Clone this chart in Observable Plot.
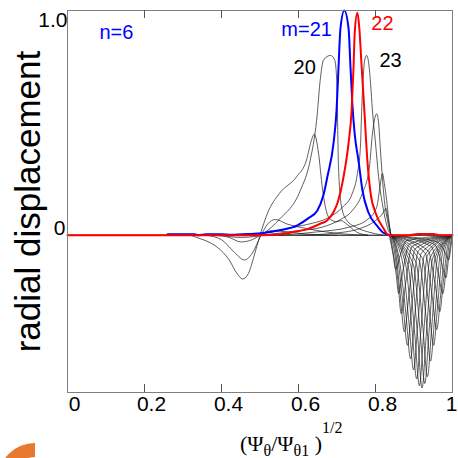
<!DOCTYPE html>
<html><head><meta charset="utf-8">
<script src="https://cdn.jsdelivr.net/npm/d3@7"></script>
<script src="https://cdn.jsdelivr.net/npm/@observablehq/plot@0.6"></script>
<style>html,body{margin:0;padding:0;background:#fff;} #chart{width:458px;height:458px;overflow:hidden}</style>
</head><body><div id="chart"></div>
<script>
// tick values
const xTicks = [0.2, 0.4, 0.6, 0.8];
const xLabels = [0, 0.2, 0.4, 0.6, 0.8];
const yTitle = "radial displacement";

// harmonics (x, radial displacement)
const m17 = [[0.38,0],[0.42,-0.01],[0.45,-0.03],[0.48,-0.02],[0.50,0],[0.53,0.02],[0.57,0.015],[0.62,0.005],[0.70,0]];
const m18 = [[0.36,0],[0.40,-0.02],[0.43,-0.07],[0.46,-0.11],[0.48,-0.08],[0.50,-0.01],[0.52,0.05],[0.54,0.07],[0.57,0.05],[0.62,0.03],[0.67,0.015],[0.72,0.005],[0.78,0]];
const m19 = [[0.32,0],[0.335,-0.01],[0.36,-0.025],[0.39,-0.055],[0.42,-0.11],[0.44,-0.17],[0.455,-0.195],[0.47,-0.17],[0.485,-0.09],[0.50,0],[0.52,0.1],[0.55,0.185],[0.595,0.26],[0.62,0.33],[0.635,0.43],[0.641,0.45],[0.652,0.365],[0.662,0.21],[0.67,0.125],[0.683,0.07],[0.70,0.06],[0.71,0.065],[0.725,0.05],[0.75,0.015],[0.78,0]];
const m20 = [[0.40,0],[0.45,-0.01],[0.49,-0.005],[0.51,0.01],[0.55,0.07],[0.605,0.2],[0.63,0.33],[0.647,0.51],[0.657,0.70],[0.665,0.78],[0.683,0.80],[0.694,0.78],[0.699,0.70],[0.701,0.55],[0.704,0.30],[0.712,0.125],[0.725,0.067],[0.75,0.035],[0.78,0.015],[0.82,0]];
const m21 = [[0.26,0.004],[0.33,0.004],[0.34,0],[0.36,0.004],[0.40,0.004],[0.423,0.002],[0.47,0.005],[0.509,0.01],[0.55,0.022],[0.597,0.044],[0.625,0.075],[0.649,0.11],[0.665,0.18],[0.675,0.26],[0.691,0.41],[0.699,0.56],[0.704,0.75],[0.709,0.92],[0.719,1.0],[0.73,0.92],[0.735,0.75],[0.74,0.58],[0.746,0.45],[0.756,0.33],[0.766,0.2],[0.782,0.10],[0.805,0.04],[0.821,0.01],[0.84,0]];
const m22 = [[0,0],[0.50,0],[0.553,0.004],[0.59,0.015],[0.623,0.027],[0.655,0.05],[0.675,0.067],[0.69,0.1],[0.701,0.142],[0.717,0.26],[0.73,0.41],[0.738,0.556],[0.743,0.75],[0.746,0.9],[0.753,0.99],[0.758,0.92],[0.764,0.75],[0.771,0.556],[0.779,0.33],[0.787,0.19],[0.80,0.10],[0.821,0.03],[0.834,0],[0.88,0],[0.91,0.005],[0.95,0.005],[0.97,0],[1,0]];
const m23 = [[0.45,0],[0.55,0.02],[0.60,0.04],[0.636,0.053],[0.68,0.08],[0.714,0.124],[0.74,0.187],[0.753,0.275],[0.761,0.4],[0.764,0.55],[0.768,0.7],[0.772,0.78],[0.777,0.80],[0.782,0.77],[0.787,0.68],[0.792,0.556],[0.80,0.41],[0.808,0.26],[0.821,0.11],[0.834,0.02],[0.845,0]];
const m24 = [[0.5,0],[0.6,0.02],[0.662,0.036],[0.706,0.067],[0.74,0.11],[0.766,0.187],[0.784,0.30],[0.792,0.45],[0.798,0.52],[0.803,0.54],[0.808,0.5],[0.812,0.4],[0.816,0.30],[0.823,0.155],[0.831,0.067],[0.84,0]];
const m25 = [[0.55,0],[0.65,0.015],[0.732,0.036],[0.777,0.067],[0.803,0.124],[0.812,0.22],[0.818,0.275],[0.823,0.23],[0.829,0.155],[0.834,0.075],[0.84,0]];
const m26 = [[0.6,0],[0.7,0.01],[0.76,0.03],[0.80,0.065],[0.82,0.1],[0.827,0.12],[0.833,0.07],[0.84,0]];
const m27 = [[0.836,0],[0.846,-0.09],[0.852,-0.15],[0.862,-0.1],[0.88,-0.025],[0.998,0]];
const m28 = [[0.838,0],[0.848,-0.1],[0.854,-0.18],[0.860,-0.26],[0.870,-0.17],[0.888,-0.04],[0.998,0]];
const m29 = [[0.838,0],[0.85,-0.08],[0.858,-0.2],[0.867,-0.35],[0.877,-0.23],[0.895,-0.05],[0.998,0]];
const m30 = [[0.84,0],[0.852,-0.07],[0.864,-0.26],[0.875,-0.43],[0.886,-0.28],[0.903,-0.06],[0.998,0]];
const m31 = [[0.84,0],[0.856,-0.08],[0.871,-0.3],[0.883,-0.49],[0.894,-0.32],[0.911,-0.07],[0.998,0]];
const m32 = [[0.84,0],[0.861,-0.1],[0.879,-0.35],[0.891,-0.55],[0.902,-0.36],[0.919,-0.08],[0.998,0]];
const m33 = [[0.84,0],[0.869,-0.11],[0.887,-0.39],[0.899,-0.60],[0.910,-0.39],[0.927,-0.09],[0.998,0]];
const m34 = [[0.84,0],[0.877,-0.12],[0.895,-0.42],[0.907,-0.64],[0.918,-0.42],[0.935,-0.09],[0.998,0]];
const m35 = [[0.84,0],[0.884,-0.13],[0.902,-0.44],[0.914,-0.67],[0.925,-0.44],[0.942,-0.1],[0.998,0]];
const m36 = [[0.84,0],[0.891,-0.13],[0.909,-0.44],[0.921,-0.68],[0.932,-0.44],[0.949,-0.1],[0.998,0]];
const m37 = [[0.84,0],[0.898,-0.13],[0.916,-0.43],[0.928,-0.66],[0.939,-0.43],[0.955,-0.1],[0.998,0]];
const m38 = [[0.84,0],[0.905,-0.12],[0.923,-0.41],[0.935,-0.63],[0.946,-0.41],[0.962,-0.09],[0.998,0]];
const m39 = [[0.84,0],[0.913,-0.11],[0.931,-0.36],[0.943,-0.56],[0.954,-0.36],[0.969,-0.08],[0.998,0]];
const m40 = [[0.84,0],[0.921,-0.1],[0.939,-0.32],[0.951,-0.49],[0.961,-0.32],[0.975,-0.07],[0.998,0]];
const m41 = [[0.84,0],[0.929,-0.08],[0.947,-0.27],[0.959,-0.42],[0.969,-0.27],[0.981,-0.06],[0.998,0]];
const m42 = [[0.84,0],[0.937,-0.07],[0.955,-0.22],[0.967,-0.34],[0.976,-0.21],[0.987,-0.05],[0.998,0]];
const m43 = [[0.84,0],[0.945,-0.05],[0.963,-0.17],[0.975,-0.26],[0.983,-0.16],[0.992,-0.03],[0.998,0]];
const m44 = [[0.84,0],[0.953,-0.04],[0.971,-0.12],[0.983,-0.19],[0.990,-0.1],[0.998,0]];
const m45 = [[0.84,0],[0.96,-0.03],[0.979,-0.07],[0.990,-0.11],[0.996,-0.05],[1.0,0]];

const blackSet = {m17,m18,m19,m20,m23,m24,m25,m26,m27,m28,m29,m30,m31,m32,m33,m34,m35,m36,m37,m38,m39,m40,m41,m42,m43,m44,m45};
const toRows = (arr, id) => arr.map(([x, y]) => ({x, y, id}));
const blackRows = Object.entries(blackSet).flatMap(([id, arr]) => toRows(arr, id));
const blueRows = toRows(m21, "m21");
const redRows = toRows(m22, "m22");
const fmt = d => (d === 0 ? "0" : d === 1 ? "1" : String(d));

const plot = Plot.plot({
  width: 458, height: 458,
  marginLeft: 67, marginRight: 6, marginTop: 10, marginBottom: 66,
  x: {domain: [0, 1]},
  y: {domain: [-0.7, 1.0]},
  style: {fontFamily: "'Liberation Sans', Arial, sans-serif", background: "#fff", color: "#000"},
  marks: [
    Plot.ruleY([0], {stroke: "#000", strokeWidth: 1}),
    Plot.line(blackRows, {x: "x", y: "y", z: "id", stroke: "#1a1a1a", strokeWidth: 0.7, curve: "monotone-x"}),
    Plot.line(blueRows, {x: "x", y: "y", stroke: "#0000ff", strokeWidth: 2, curve: "monotone-x"}),
    Plot.line(redRows, {x: "x", y: "y", stroke: "#ff0000", strokeWidth: 2, curve: "monotone-x"}),
    Plot.frame({stroke: "#7f7f7f"}),
    Plot.tickX(xTicks, {x: d => d, insetTop: 374, stroke: "#555"}),
    Plot.tickX(xTicks, {x: d => d, insetBottom: 374, stroke: "#555"}),
    Plot.axisX(xLabels, {anchor: "bottom", tickSize: 0, tickPadding: 4, dx: 7, fontSize: 21, tickFormat: fmt, label: null}),
    Plot.axisX([1], {anchor: "bottom", tickSize: 0, tickPadding: 4, dx: -1, fontSize: 21, tickFormat: fmt, label: null}),
    Plot.axisY([1], {anchor: "left", tickSize: 0, tickPadding: 0, dy: 10, fontSize: 21, tickFormat: d => "1.0", label: null}),
    Plot.axisY([0], {anchor: "left", tickSize: 0, tickPadding: 2, dy: -7, fontSize: 21, tickFormat: fmt, label: null}),
    Plot.text([yTitle], {frameAnchor: "left", textAnchor: "middle", rotate: -90, dx: -39, fontSize: 35}),
    Plot.text(["n=6"], {x: 0.127, y: 0.903, fill: "#0000ff", fontSize: 20}),
    Plot.text(["m=21"], {x: 0.621, y: 0.917, fill: "#0000ff", fontSize: 20}),
    Plot.text(["22"], {x: 0.818, y: 0.943, fill: "#ff0000", fontSize: 20}),
    Plot.text(["20"], {x: 0.616, y: 0.748, fill: "#000", fontSize: 20}),
    Plot.text(["23"], {x: 0.839, y: 0.779, fill: "#000", fontSize: 20})
  ]
});

const svg = d3.select(plot);
const t = svg.append("text")
  .attr("x", 240).attr("y", 451)
  .attr("text-anchor", "start")
  .attr("font-family", "'Liberation Serif', 'Times New Roman', serif")
  .attr("font-size", 22).attr("fill", "#000");
t.append("tspan").text("(Ψ");
t.append("tspan").attr("dy", 5).attr("font-size", 16).text("θ");
t.append("tspan").attr("dy", -5).text("/Ψ");
t.append("tspan").attr("dy", 5).attr("font-size", 16).text("θ1");
t.append("tspan").attr("dy", -5).text(" )");
t.append("tspan").attr("dy", -18).attr("font-size", 16).text("1/2");

svg.append("path")
  .attr("transform", "translate(35,480)")
  .attr("fill", "#e8792f")
  .attr("d", d3.arc()({innerRadius: 23, outerRadius: 37, startAngle: -Math.PI / 2, endAngle: 0}));

document.getElementById("chart").append(plot);
</script>
</body></html>
